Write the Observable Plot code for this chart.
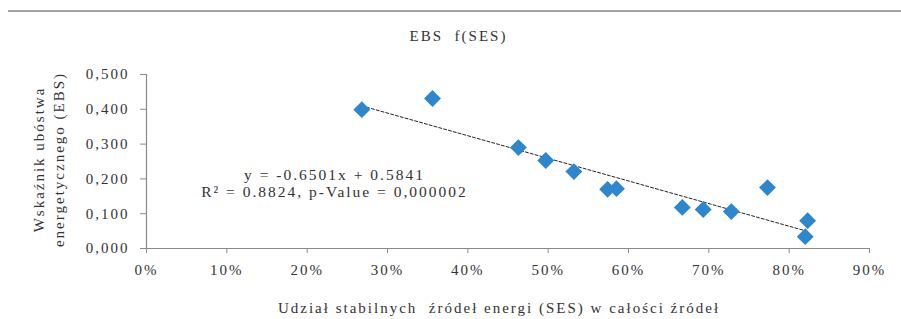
<!DOCTYPE html>
<html><head><meta charset="utf-8">
<script src="https://cdn.jsdelivr.net/npm/d3@7"></script>
<script src="https://cdn.jsdelivr.net/npm/@observablehq/plot@0.6"></script>
<style>
body{margin:0;background:#fff;font-family:"Liberation Serif","Times New Roman","DejaVu Serif",serif;}
#wrap{position:relative;width:901px;height:319px;overflow:hidden;background:#fff}
#rule{position:absolute;left:8px;top:10px;width:893px;height:0;border-top:2px solid #9ea3a8}
#title{position:absolute;left:8px;width:901px;top:27px;text-align:center;font-size:15px;letter-spacing:2px;color:#333;line-height:18px;white-space:pre}
#chart{position:absolute;left:0;top:49px}
</style></head>
<body>
<div id="wrap">
  <div id="rule"></div>
  <div id="title">EBS  f(SES)</div>
  <div id="chart"></div>
</div>
<script>
// Data
const ses = [0.268, 0.356, 0.463, 0.497, 0.532, 0.574, 0.585, 0.667, 0.693, 0.728, 0.773, 0.823, 0.820];
const ebs = [0.399, 0.431, 0.290, 0.253, 0.221, 0.170, 0.172, 0.118, 0.112, 0.106, 0.175, 0.080, 0.034];
const xTicks = [0, 0.1, 0.2, 0.3, 0.4, 0.5, 0.6, 0.7, 0.8, 0.9];
const yTicks = [0, 0.1, 0.2, 0.3, 0.4, 0.5];
const slope = [-0.6501];
const intercept = [0.5841];
const equationText = ["y = -0.6501x + 0.5841", "R² = 0.8824, p-Value = 0,000002"];
const xTitle = "Udział stabilnych  źródeł energi (SES) w całości źródeł";
const yTitle = ["Wskaźnik ubóstwa", "energetycznego (EBS)"];

const points = ses.map((x, i) => ({x, y: ebs[i]}));
const xMin = d3.min(ses), xMax = d3.max(ses);
const trend = [xMin, xMax].map(x => ({x, y: slope[0] * x + intercept[0]}));

const axisGray = "#8a8a8a";
const textCol = "#333";
const serif = "'Liberation Serif','Times New Roman','DejaVu Serif',serif";

const chart = Plot.plot({
  width: 901,
  height: 270,
  marginTop: 25,
  marginBottom: 71,
  marginLeft: 146,
  marginRight: 32,
  style: {fontFamily: serif, fontSize: "15px", letterSpacing: "2px", color: textCol, background: "transparent"},
  x: {domain: [0, 0.9]},
  y: {domain: [0, 0.5]},
  marks: [
    Plot.ruleY([0], {stroke: axisGray, strokeWidth: 1.2}),
    Plot.ruleX([0], {stroke: axisGray, strokeWidth: 1.2}),
    Plot.axisX({ticks: xTicks, tickFormat: d3.format(".0%"), tickSize: 5, tickPadding: 11, stroke: axisGray, fill: textCol, label: null}),
    Plot.axisY({ticks: yTicks, tickFormat: d => d3.format(".3f")(d).replace(".", ","), tickSize: 6, tickPadding: 11, stroke: axisGray, fill: textCol, label: null}),
    Plot.line(trend, {x: "x", y: "y", stroke: "#222", strokeWidth: 1, strokeDasharray: "3,2"}),
    Plot.dot(points, {x: "x", y: "y", symbol: "diamond2", r: 7.6, fill: "#2e86cc", stroke: "none"}),
    Plot.text([equationText.join("\n")], {x: 0.234, y: 0.189, text: d => d, textAnchor: "middle", lineAnchor: "middle", lineHeight: 1.1, fontSize: 15.5, fill: textCol}),
    Plot.text([xTitle], {frameAnchor: "bottom", dx: -9, dy: 60, text: d => d, textAnchor: "middle", lineAnchor: "middle", fill: textCol}),
    Plot.text([yTitle.join("\n")], {frameAnchor: "left", dx: -99, dy: -2, rotate: -90, text: d => d, textAnchor: "middle", lineAnchor: "middle", lineHeight: 1.35, fill: textCol})
  ]
});
document.getElementById("chart").appendChild(chart);
</script>
</body></html>
